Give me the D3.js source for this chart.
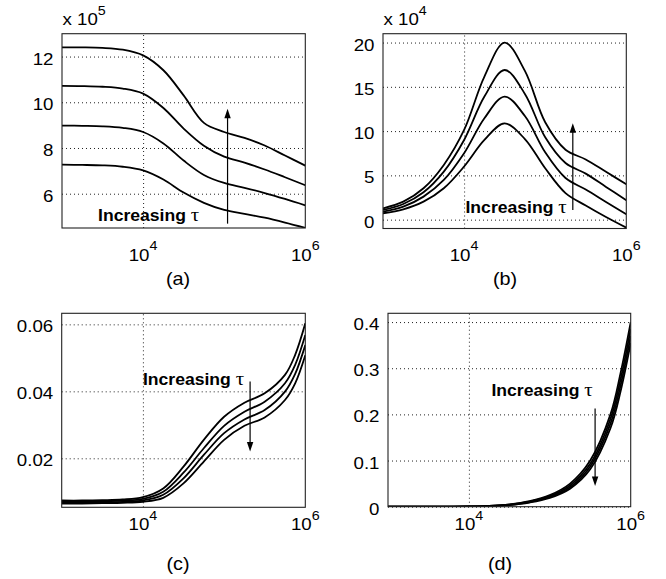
<!DOCTYPE html>
<html><head><meta charset="utf-8">
<script src="https://d3js.org/d3.v7.min.js"></script>
<style>
body{margin:0;background:#fff}
svg{display:block}
text{font-family:"Liberation Sans",Arial,Helvetica,sans-serif;fill:#000}
</style>
</head><body><script>
var W = 666, H = 579;

// frequency samples (log axis)
var freq = [1e3, 1.78e3, 3.16e3, 5.62e3, 1e4, 1.78e4, 3.16e4, 5.62e4, 1e5, 1.78e5, 3.16e5, 5.62e5, 1e6];
var freqFine = [1e3, 1.78e3, 3.16e3, 5.62e3, 1e4, 1.78e4, 3.16e4, 5.62e4, 1e5, 1.78e5, 3.16e5, 5.62e5, 7.5e5, 1e6];

// (a) x 1e5
var a1 = [12.40, 12.40, 12.38, 12.30, 12.05, 11.40, 10.30, 9.10, 8.70, 8.44, 8.11, 7.67, 7.23];
var a2 = [10.72, 10.71, 10.68, 10.60, 10.38, 9.75, 8.85, 8.10, 7.62, 7.36, 7.06, 6.72, 6.37];
var a3 = [8.98, 8.97, 8.95, 8.88, 8.70, 8.20, 7.45, 6.82, 6.47, 6.26, 6.03, 5.77, 5.49];
var a4 = [7.27, 7.26, 7.24, 7.18, 7.02, 6.62, 6.05, 5.60, 5.29, 5.12, 4.95, 4.74, 4.51];

// (b) x 1e4
var b1 = [1.28, 2.03, 3.54, 6.18, 10.13, 16.16, 20.0, 16.8, 11.0, 7.9, 6.8, 5.4, 4.0];
var b2 = [1.09, 1.77, 3.09, 5.42, 9.0, 13.9, 16.9, 14.2, 9.3, 6.4, 5.2, 3.7, 2.2];
var b3 = [0.90, 1.47, 2.60, 4.48, 7.5, 11.45, 13.9, 11.7, 7.6, 4.7, 3.4, 2.0, 0.6];
var b4 = [0.72, 1.17, 2.03, 3.54, 6.0, 9.0, 10.88, 9.1, 5.8, 3.0, 1.6, 0.3, -0.9];

// (c)
var c1 = [0.0074, 0.0074, 0.0075, 0.0077, 0.0084, 0.0110, 0.0175, 0.0255, 0.0324, 0.0366, 0.0394, 0.0449, 0.0509, 0.0603];
var c2 = [0.0071, 0.0071, 0.0072, 0.0074, 0.0079, 0.0100, 0.0157, 0.0230, 0.0297, 0.0339, 0.0369, 0.0424, 0.0479, 0.0568];
var c3 = [0.0068, 0.0068, 0.0068, 0.0070, 0.0074, 0.0091, 0.0140, 0.0210, 0.0275, 0.0316, 0.0344, 0.0399, 0.0452, 0.0538];
var c4 = [0.0065, 0.0065, 0.0066, 0.0067, 0.0070, 0.0082, 0.0125, 0.0190, 0.0255, 0.0297, 0.0322, 0.0374, 0.0424, 0.0508];

// (d)
var dv1 = [0, 0, 0.0001, 0.0002, 0.0005, 0.0018, 0.0050, 0.012, 0.025, 0.050, 0.100, 0.200, 0.290, 0.400];
var dv2 = [0, 0, 0.0001, 0.0002, 0.0004, 0.0015, 0.0045, 0.011, 0.023, 0.046, 0.093, 0.190, 0.276, 0.385];
var dv3 = [0, 0, 0.0001, 0.0002, 0.0004, 0.0013, 0.0040, 0.010, 0.021, 0.042, 0.087, 0.180, 0.263, 0.370];
var dv4 = [0, 0, 0, 0.0001, 0.0003, 0.0011, 0.0035, 0.009, 0.019, 0.039, 0.081, 0.170, 0.250, 0.355];

var xTicks = [1e4, 1e6];
var xTickExp = ["4", "6"];

var panels = [
  {name: "(a)", box: [62, 33.7, 305.3, 228], xs: freq, series: [a1, a2, a3, a4],
   ydom: [4.5, 13], yticks: [6, 8, 10, 12], ylab: ["6", "8", "10", "12"], expo: "5",
   note: [2.78e3, 4.8], arrow: [1.1e5, 4.69, 9.72], labelX: 178, labelY: 285, xlabOff: 32.7},
  {name: "(b)", box: [383, 33.7, 626.3, 228.5], xs: freq, series: [b1, b2, b3, b4],
   ydom: [-1, 21], yticks: [0, 5, 10, 15, 20], ylab: ["0", "5", "10", "15", "20"], expo: "4",
   note: [1.04e4, 0.72], arrow: [2.19e5, 1.09, 10.9], labelX: 505, labelY: 285, xlabOff: 32.2},
  {name: "(c)", box: [61.7, 313.3, 305.3, 507.3], xs: freqFine, series: [c1, c2, c3, c4],
   ydom: [0.00537, 0.0633], yticks: [0.02, 0.04, 0.06], ylab: ["0.02", "0.04", "0.06"], expo: null,
   note: [1.0e4, 0.0419], arrow: [2.09e5, 0.0429, 0.022], labelX: 178, labelY: 570, xlabOff: 22.7},
  {name: "(d)", box: [388, 313.3, 630.7, 506.7], xs: freqFine, series: [dv1, dv2, dv3, dv4],
   ydom: [0, 0.419], yticks: [0, 0.1, 0.2, 0.3, 0.4], ylab: ["0", "0.1", "0.2", "0.3", "0.4"], expo: null,
   note: [1.9e4, 0.24], arrow: [3.63e5, 0.213, 0.045], labelX: 500, labelY: 570, xlabOff: 23.3}
];

var svg = d3.select("body").append("svg").attr("width", W).attr("height", H);

// text is a bit wider than the font metrics in the original
function txt(g, x, y, s, size, anchor, weight) {
  return g.append("text")
    .attr("transform", "translate(" + x + "," + y + ") scale(1.1,1)")
    .attr("text-anchor", anchor || "start")
    .style("font-size", size + "px")
    .style("font-weight", weight || "normal")
    .text(s);
}

panels.forEach(function(p, i) {
  var x0 = p.box[0], y0 = p.box[1], x1 = p.box[2], y1 = p.box[3];
  var x = d3.scaleLog().domain([1e3, 1e6]).range([x0, x1]);
  var y = d3.scaleLinear().domain(p.ydom).range([y1, y0]);
  var g = svg.append("g");

  // grid
  g.append("g").attr("transform", "translate(" + x0 + ",0)")
    .call(d3.axisLeft(y).tickValues(p.yticks).tickSize(-(x1 - x0)).tickFormat(""))
    .call(function(s) {
      s.select(".domain").remove();
      s.selectAll("line").attr("stroke", "#222").attr("stroke-dasharray", "1,3");
    });
  g.append("g").attr("transform", "translate(0," + y1 + ")")
    .call(d3.axisBottom(x).tickValues([1e4]).tickSize(-(y1 - y0)).tickFormat(""))
    .call(function(s) {
      s.select(".domain").remove();
      s.selectAll("line").attr("stroke", "#222").attr("stroke-dasharray", "1,3");
    });

  // curves
  g.append("clipPath").attr("id", "clip" + i).append("rect")
    .attr("x", x0).attr("y", y0).attr("width", x1 - x0).attr("height", y1 - y0);
  var line = d3.line()
    .x(function(d) { return x(d[0]); })
    .y(function(d) { return y(d[1]); })
    .curve(d3.curveCatmullRom.alpha(0.5));
  p.series.forEach(function(s) {
    g.append("path")
      .attr("clip-path", "url(#clip" + i + ")")
      .attr("d", line(p.xs.map(function(f, k) { return [f, s[k]]; })))
      .attr("fill", "none").attr("stroke", "#000").attr("stroke-width", 1.8);
  });

  // box
  g.append("rect").attr("x", x0).attr("y", y0).attr("width", x1 - x0).attr("height", y1 - y0)
    .attr("fill", "none").attr("stroke", "#222").attr("stroke-width", 1.1);

  // y tick labels
  p.yticks.forEach(function(t, k) {
    txt(g, x0 - 8.5, y(t) + 8, p.ylab[k], 17, "end");
  });
  // x tick labels
  xTicks.forEach(function(t, k) {
    var tt = txt(g, x(t), y1 + p.xlabOff, "10", 17, "middle");
    tt.append("tspan").attr("dy", -10.5).style("font-size", "13px").text(xTickExp[k]);
  });
  // exponent
  if (p.expo) {
    var e = txt(g, x0 + 0.5, 25, "x 10", 17, "start");
    e.append("tspan").attr("dy", -10).style("font-size", "13px").text(p.expo);
  }

  // annotation
  var n = txt(g, x(p.note[0]), y(p.note[1]), "Increasing ", 16, "start", "bold");
  n.append("tspan").style("font-family", "'Liberation Serif','Times New Roman',serif")
    .style("font-weight", "normal").style("font-size", "19px").text("τ");

  // arrow
  var ax = x(p.arrow[0]), ya = y(p.arrow[1]), yt = y(p.arrow[2]);
  var dir = yt < ya ? 1 : -1;
  g.append("line").attr("x1", ax).attr("x2", ax).attr("y1", ya).attr("y2", yt + dir * 8)
    .attr("stroke", "#000").attr("stroke-width", 1.2);
  g.append("path")
    .attr("d", "M" + ax + "," + yt + "L" + (ax - 3.2) + "," + (yt + dir * 9.5) + "L" + (ax + 3.2) + "," + (yt + dir * 9.5) + "Z")
    .attr("fill", "#000");

  // panel label
  txt(g, p.labelX, p.labelY, p.name, 18, "middle");
});
</script></body></html>
